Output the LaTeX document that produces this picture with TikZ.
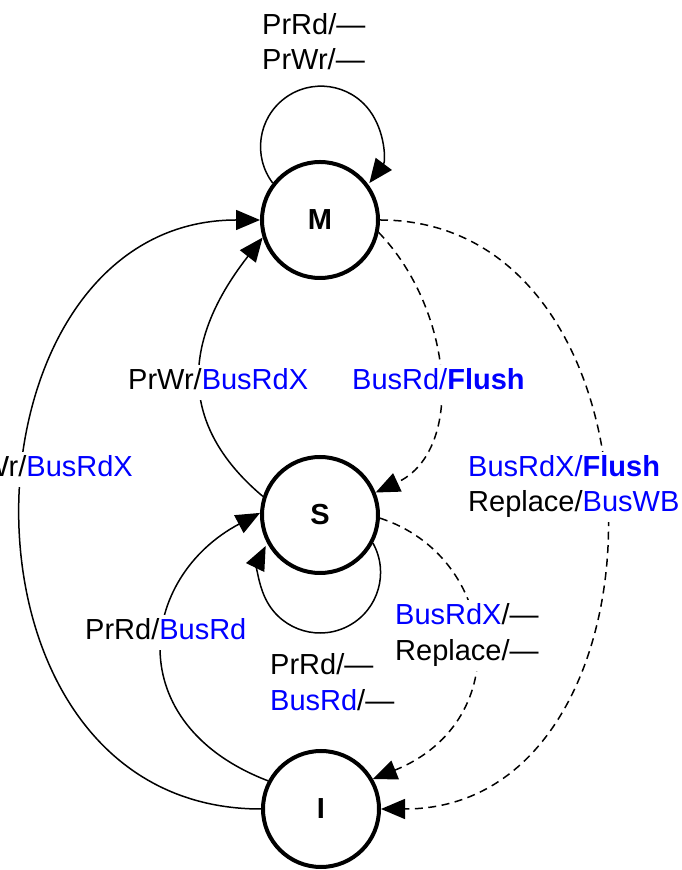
\documentclass[tikz,border=0pt]{standalone}
\usepackage{fontspec}
\setmainfont{Liberation Sans}
\usetikzlibrary{arrows.meta}
\definecolor{busblue}{RGB}{0,0,255}
\begin{document}
\begin{tikzpicture}[x=1pt,y=1pt,
  state/.style={circle,draw,line width=4pt,minimum size=116pt,inner sep=0pt,
    font=\fontsize{29}{35}\selectfont\bfseries},
  edge/.style={line width=1.5pt,-{Triangle[length=24pt,width=20pt]}},
  bus/.style={dash pattern=on 8pt off 5.5pt},
  lbl/.style={font=\fontsize{29}{35}\selectfont,anchor=base west,fill=white,
    inner xsep=2pt,inner ysep=3.5pt,text height=21pt,text depth=7pt}
]
\useasboundingbox (0,0) rectangle (682,870);
\clip (0,0) rectangle (682,870);

% states
\node[state] (M) at (320,650) {M};
\node[state] (S) at (320,355) {S};
\node[state] (I) at (321,61) {I};

% processor-side transitions (solid)
\draw[edge] (M.142) arc[start angle=217,end angle=-37,radius=60.5];
\draw[edge] (I.west) to[out=180,in=180,out distance=327pt,in distance=310pt] (M.west);
\draw[edge] (S.162) to[out=140,in=232,out distance=104pt,in distance=140pt] (M.197);
\draw[edge] (I.152) to[out=159,in=208,out distance=159pt,in distance=138pt] (S.178);
\draw[edge] (S.-28) arc[start angle=29,end angle=-206,radius=60.5];

% bus-side transitions (dashed)
\draw[edge,bus] (M.-12) to[out=-46,in=25,out distance=106pt,in distance=100pt] (S.22);
\draw[edge,bus] (M.east) to[out=0,in=0,distance=300pt] (I.east);
\draw[edge,bus] (S.-3) to[out=-18,in=22,out distance=124pt,in distance=156pt] (I.30);

% transition labels
\node[lbl] (mloopA) at (260,835) {PrRd/—};
\node[lbl] (mloopB) at (260,800) {PrWr/—};
\node[lbl,anchor=base east] (imA) at (135,393) {PrWr/\textcolor{busblue}{BusRdX}};
\node[lbl] (smA) at (126,480) {PrWr/\textcolor{busblue}{BusRdX}};
\node[lbl] (msA) at (350,480) {\textcolor{busblue}{BusRd/\textbf{Flush}}};
\node[lbl] (miA) at (466,393) {\textcolor{busblue}{BusRdX/\textbf{Flush}}};
\node[lbl] (miB) at (466,358) {Replace/\textcolor{busblue}{BusWB}};
\node[lbl] (isA) at (83,230) {PrRd/\textcolor{busblue}{BusRd}};
\node[lbl] (siA) at (393,245) {\textcolor{busblue}{BusRdX}/—};
\node[lbl] (siB) at (393,209) {Replace/—};
\node[lbl] (sloopA) at (268,195) {PrRd/—};
\node[lbl] (sloopB) at (268,159) {\textcolor{busblue}{BusRd}/—};
\end{tikzpicture}
\end{document}
